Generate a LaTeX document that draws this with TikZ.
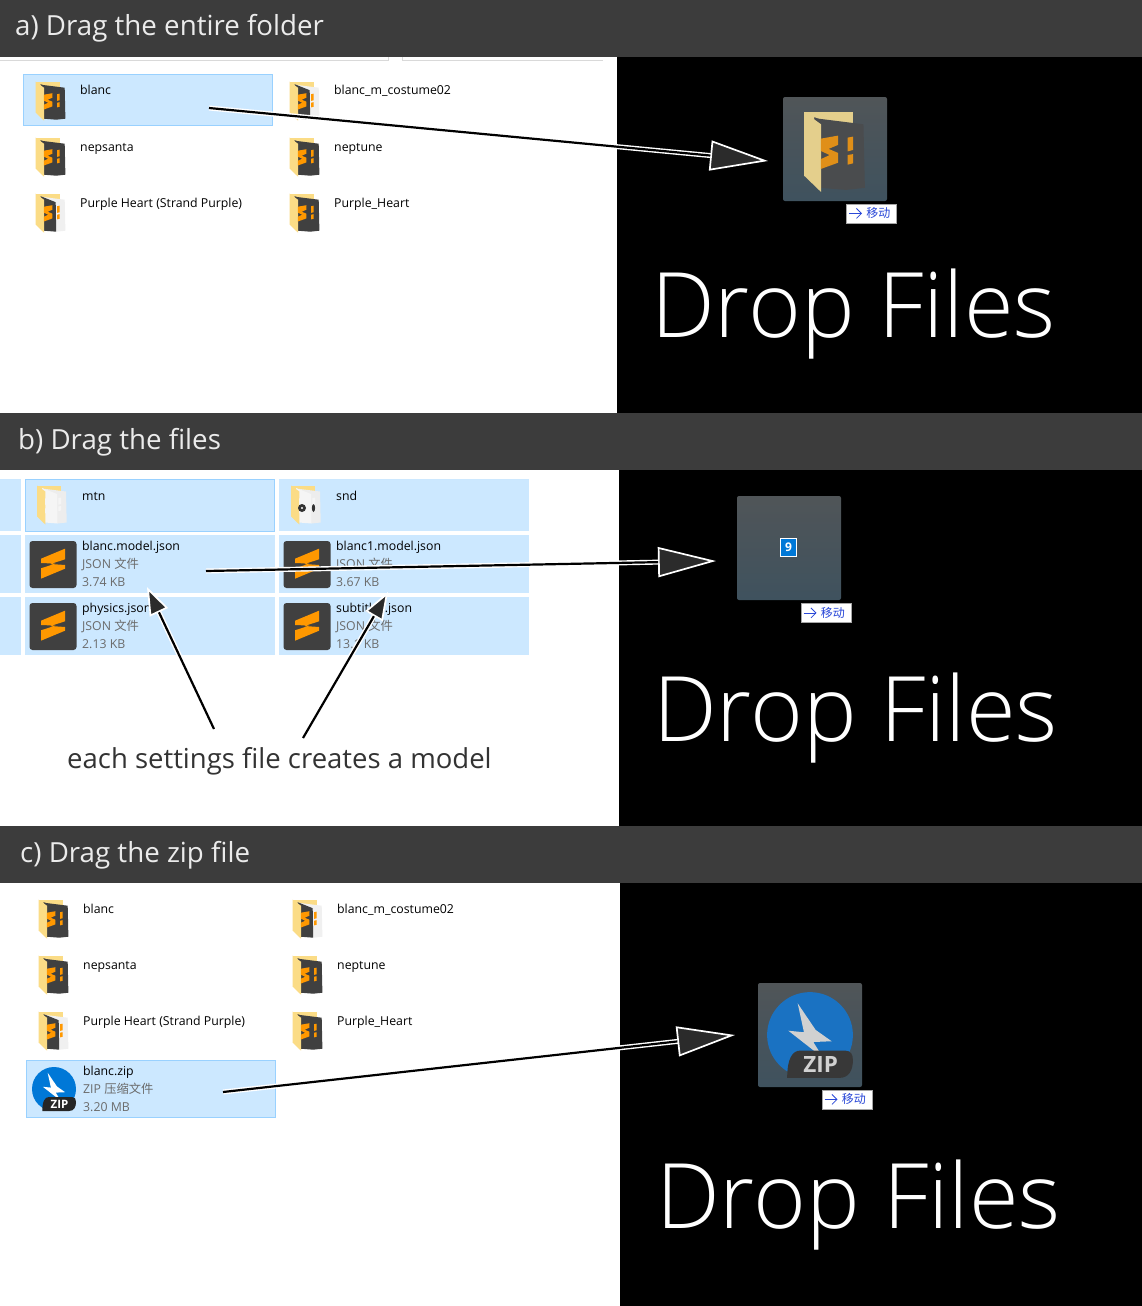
\documentclass[tikz,border=0pt]{standalone}
\usepackage{fontspec}
\setmainfont{Open Sans}
\newfontfamily\cjk{Noto Sans CJK SC}
\newfontfamily\dropfont{Open Sans Light}
\usetikzlibrary{arrows.meta,calc}
\definecolor{barcol}{HTML}{3C3C3C}
\definecolor{selfill}{HTML}{CCE8FF}
\definecolor{selline}{HTML}{99D1FF}
\definecolor{flapcol}{HTML}{FBDC86}
\definecolor{darkpage}{HTML}{404040}
\definecolor{logocol}{HTML}{FF9800}
\definecolor{tipdark}{HTML}{2B2B2B}
\definecolor{zipblue}{HTML}{0078D7}
\definecolor{zipdim}{HTML}{1A72C2}
\definecolor{movecol}{HTML}{2A48D8}
\definecolor{tileup}{HTML}{505558}
\definecolor{tiledown}{HTML}{3F525E}
\definecolor{dimflap}{HTML}{E4CF8C}
\definecolor{dimpage}{HTML}{4A4C4E}
\definecolor{dimlogo}{HTML}{E08F18}
\tikzset{
  barlabel/.style={anchor=base west, inner sep=0pt, text=white!92!black, font=\fontsize{27.7}{30}\selectfont},
  droplabel/.style={anchor=base, inner sep=0pt, text=white, font=\dropfont\fontsize{90.3}{100}\selectfont},
  filename/.style={anchor=base west, inner sep=0pt, text=black, font=\fontsize{12.3}{14}\selectfont},
  filemeta/.style={filename, text=black!58},
  selrow/.style={fill=selfill},
  tile/.style={rounded corners=2pt, top color=tileup, bottom color=tiledown},
  movebox/.style={draw=black!35, fill=white, line width=0.8pt, minimum width=50pt, minimum height=19pt, inner sep=0pt, anchor=north west, text=movecol, font=\cjk\fontsize{12}{14}\selectfont},
  dragline/.style 2 args={white, line width=5pt, line join=miter, -{Triangle[length=#1pt, width=#2pt, fill=tipdark, line width=1.7pt]}},
  dragcore/.style={black, line width=2.2pt, shorten >=#1pt},
  pics/folderS/.style n args={4}{code={
    \fill[#1] (0,0) rectangle (24,8);
    \fill[#3] (5,3) -- (29,6) -- (29.7,37) -- (20.5,38) -- cycle;
    \fill[#2] (5,2.5) -- (20,8.5) -- (20.5,38) -- (8,37) -- cycle;
    \fill[#1] (0,0) -- (8.3,6) -- (8.3,39) -- (0,31) -- cycle;
    \fill[#4] (8.2,13) -- (16.7,11.5) -- (16.7,16) -- (12,18) -- (16.7,20) -- (16.7,24.7) -- (8.2,27.8) -- (8.2,23) -- (12.5,21) -- (8.2,19) -- cycle;
    \fill[#4] (21.3,12.5) -- (24,12) -- (24,18.5) -- (21.3,19.2) -- cycle (21.3,21) -- (24,20.5) -- (24,25) -- (21.3,25.7) -- cycle;
  }},
  pics/subicon/.style={code={
    \fill[darkpage, rounded corners=3pt] (0,0) rectangle (47,47);
    \fill[logocol] (11.5,17.7) -- (35.5,7.7) -- (35.5,18.3) -- (21,23) -- (35.5,24) -- (35.5,27.7) -- (11.5,37.7) -- (11.5,27.3) -- (26,22.6) -- (11.5,22) -- cycle;
  }},
  pics/zipicon/.style n args={3}{code={
    \fill[#1] (0,0) circle (22);
    \fill[#2] (-6.3,-16.2) -- (2.9,-2.6) -- (11.1,3.2) -- (1.7,3.6) -- (6.8,11.8) -- (-11.1,-2.2) -- (-3.1,-1.4) -- cycle;
    \fill[#3] (-11.7,22) .. controls (-11.7,12) and (-9,8) .. (-5,8) -- (18,8) .. controls (21,8) and (22,10) .. (22,13) .. controls (22,18) and (20,22) .. (15,22) -- cycle;
    \node[inner sep=0pt, text=#2, transform shape, font=\bfseries\fontsize{11.5}{12}\selectfont] (ziptext) at (5.5,15) {ZIP};
  }},
}
\begin{document}
\begin{tikzpicture}[x=1pt, y=-1pt]
\useasboundingbox (0,0) rectangle (1142,1306);
\fill[white] (0,0) rectangle (1142,1306);
\fill[black] (617,57) rectangle (1142,413);
\fill[black] (619,470) rectangle (1142,826);
\fill[black] (620,883) rectangle (1142,1306);
\foreach \y/\z in {0/57,413/470,826/883} \fill[barcol] (0,\y) rectangle (1142,\z);
\node[barlabel] (bara) at (15,36) {a) Drag the entire folder};
\node[barlabel] (barb) at (18,449) {b) Drag the files};
\node[barlabel] (barc) at (20,862) {c) Drag the zip file};
\node[droplabel] (dropa) at (853.5,337) {Drop Files};
\node[droplabel] (dropb) at (855.5,741) {Drop Files};
\node[droplabel] (dropc) at (858.5,1228) {Drop Files};
\draw[black!15, line width=0.8pt] (0,60) -- (388,60) -- (388,57) (402,57) -- (402,60) -- (603,60);
\fill[selrow, draw=selline, line width=0.8pt] (23.5,74.5) rectangle (272.5,125);
\fill[selrow, draw=selline, line width=0.8pt] (26.5,1060.5) rectangle (275,1117.5);
\foreach \y/\z in {479/531,535/593,597/655} \fill[selrow] (0,\y) rectangle (21,\z);
\fill[selrow, draw=selline, line width=0.8pt] (25.5,479.5) rectangle (274.5,531);
\fill[selrow] (279,479) rectangle (529,531);
\foreach \y/\z in {535/593,597/655} {
  \fill[selrow] (25,\y) rectangle (275,\z);
  \fill[selrow] (279,\y) rectangle (529,\z);
}
\foreach \nm/\x/\y/\lbl/\bk in {
  aa/0/0/blanc/darkpage, ab/254/0/blanc\_m\_costume02/white!94!black,
  ac/0/56/nepsanta/darkpage, ad/254/56/neptune/darkpage,
  ae/0/112/Purple Heart (Strand Purple)/white!94!black, af/254/112/Purple\_Heart/darkpage} {
  \node[filename] (name\nm) at (80+\x,95+\y) {\lbl};
  \pic at (35.7+\x,81.7+\y) {folderS={flapcol}{darkpage}{\bk}{logocol}};
}
\foreach \nm/\x/\y/\lbl/\bk in {
  ca/0/0/blanc/darkpage, cb/254/0/blanc\_m\_costume02/white!94!black,
  cc/0/56/nepsanta/darkpage, cd/254/56/neptune/darkpage,
  ce/0/112/Purple Heart (Strand Purple)/white!94!black, cf/254/112/Purple\_Heart/darkpage} {
  \node[filename] (name\nm) at (83+\x,913+\y) {\lbl};
  \pic at (38.7+\x,899.7+\y) {folderS={flapcol}{darkpage}{\bk}{logocol}};
}
\node[filename] (namemtn) at (82,500) {mtn};
\node[filename] (namesnd) at (336,500) {snd};
\pic at (37,485.5) {folderS={flapcol}{white!96!black}{white!93!black}{white!96!black}};
\pic at (291,485.5) {folderS={flapcol}{white!96!black}{white!93!black}{white!96!black}};
\fill[black!80] (302,508) circle (4);
\fill[white] (302,508) circle (1.2);
\fill[black!80] (313.5,508) ellipse (1.6 and 4);
\foreach \nm/\x/\y/\lbl/\typ/\sz in {
  ja/0/0/blanc.model.json/JSON/3.74 KB, jb/254/0/blanc1.model.json/JSON/3.67 KB,
  jc/0/62/physics.json/JSON/2.13 KB, jd/254/62/subtitles.json/JSON/13.1 KB} {
  \pic at (29.5+\x,541+\y) {subicon};
  \node[filename] (name\nm) at (82+\x,550.5+\y) {\lbl};
  \node[filemeta] (type\nm) at (82+\x,568.5+\y) {\typ\ {\cjk 文件}};
  \node[filemeta] (size\nm) at (82+\x,586.5+\y) {\sz};
}
\pic at (54,1089) {zipicon={zipblue}{white}{black!85}};
\node[filename] (namezip) at (83,1075.5) {blanc.zip};
\node[filemeta] (typezip) at (83,1093.5) {ZIP {\cjk 压缩文件}};
\node[filemeta] (sizezip) at (83,1111.5) {3.20 MB};
\node[inner sep=0pt, text=black!80, anchor=base west, font=\fontsize{27.5}{30}\selectfont] (capt) at (67,768) {each settings file creates a model};
\node[tile, minimum size=104pt, inner sep=0pt] (tilea) at (835,149) {};
\node[tile, minimum size=104pt, inner sep=0pt] (tileb) at (789,548) {};
\node[tile, minimum size=104pt, inner sep=0pt] (tilec) at (810,1035) {};
\pic[scale=2.05] at (804,112) {folderS={dimflap}{dimpage}{dimpage}{dimlogo}};
\node[draw=white, fill=zipblue, line width=1pt, text=white, inner sep=0pt, minimum width=16pt, minimum height=18pt, font=\bfseries\fontsize{12}{12}\selectfont] (countb) at (788.5,547.5) {9};
\pic[scale=1.95] at (810,1035) {zipicon={zipdim}{white!82!black}{black!78}};
\foreach \nm/\x/\y in {a/846/203.5, b/800.5/603, c/821.5/1089.5} {
  \node[movebox, align=right, text width=38pt] (move\nm) at (\x,\y) {移动};
  \draw[movecol, line width=0.8pt, -{Straight Barb[length=5pt, width=10pt]}] ($(move\nm.west)+(3,0)$) -- ++(13,0);
}
\coordinate (fromA) at (209,108);
\coordinate (toA) at (768,161);
\coordinate (fromB) at (206,571);
\coordinate (toB) at (716,561);
\coordinate (fromC) at (223,1092);
\coordinate (toC) at (735,1035);
\coordinate (fromL) at (214,729);
\coordinate (toL) at (147,587);
\coordinate (fromR) at (303,738);
\coordinate (toR) at (388,592);
\foreach \a/\ln/\wd in {A/58/30, B/58/30, C/58/30, L/28/20, R/28/20} {
  \draw[dragline={\ln}{\wd}] (from\a) -- (to\a);
  \draw[dragcore=\ln] (from\a) -- (to\a);
}
\end{tikzpicture}
\end{document}
